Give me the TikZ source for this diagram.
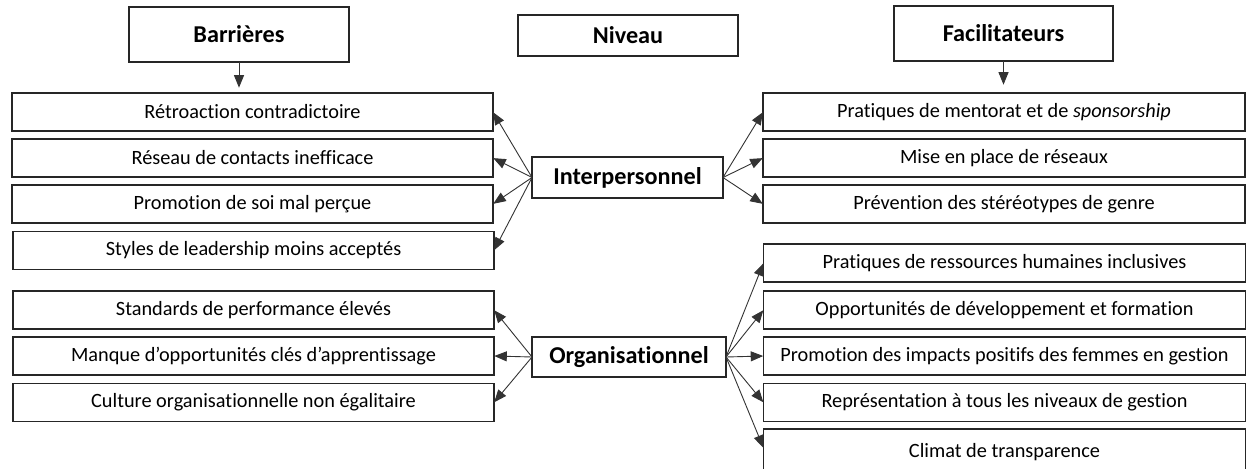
\documentclass[tikz,border=0pt]{standalone}
\usepackage{fontspec}
\setmainfont{Carlito}[Ligatures=NoCommon]
\usetikzlibrary{arrows.meta}
\tikzset{
  box/.style={draw=black!85, line width=1.1pt, fill=white, inner sep=0pt, outer sep=0pt,
    minimum height=38pt, font=\fontsize{20.3}{24}\selectfont},
  lbox/.style={box, minimum width=481pt},
  rbox/.style={box, minimum width=482pt},
  head/.style={draw=black!85, line width=1.1pt, inner sep=0pt, outer sep=0pt,
    font=\fontsize{24.2}{28}\selectfont\bfseries},
  arr/.style={draw=black!80, line width=0.9pt, -{Triangle[length=12.5pt,width=10pt]}, shorten >=0.3pt}
}
\begin{document}
\begin{tikzpicture}[x=1pt,y=-1pt]
\useasboundingbox (0,0) rectangle (1246,468);
% headers
\node[head, minimum width=220pt, minimum height=55pt] (bar) at (239,34.5) {Barrières};
\node[head, minimum width=220pt, minimum height=41pt] (niv) at (628,35.5) {Niveau};
\node[head, minimum width=219pt, minimum height=55pt] (fac) at (1003.5,33.5) {Facilitateurs};
\node[head, minimum width=191pt, minimum height=41pt] (ip) at (627.5,177.5) {Interpersonnel};
\node[head, minimum width=194pt, minimum height=40pt] (org) at (629,357) {Organisationnel};
\coordinate (bard) at (239,88);
\coordinate (facd) at (1003.5,85);
% left boxes
\node[lbox] (l1) at (252.5,112) {Rétroaction contradictoire};
\node[lbox] (l2) at (252.5,158) {Réseau de contacts inefficace};
\node[lbox] (l3) at (252.5,204) {Promotion de soi mal perçue};
\node[lbox] (l4) at (253.5,250.5) {Styles de leadership moins acceptés};
\node[lbox] (l5) at (253.5,310) {Standards de performance élevés};
\node[lbox] (l6) at (253.5,356) {Manque d’opportunités clés d’apprentissage};
\node[lbox] (l7) at (253.5,402.5) {Culture organisationnelle non égalitaire};
% right boxes
\node[rbox] (r1) at (1004,112) {Pratiques de mentorat et de \emph{sponsorship}};
\node[rbox] (r2) at (1004,158) {Mise en place de réseaux};
\node[rbox] (r3) at (1004,204) {Prévention des stéréotypes de genre};
\node[rbox] (r4) at (1004.5,263) {Pratiques de ressources humaines inclusives};
\node[rbox] (r5) at (1004.5,310) {Opportunités de développement et formation};
\node[rbox] (r6) at (1004.5,356) {Promotion des impacts positifs des femmes en gestion};
\node[rbox] (r7) at (1004.5,402.5) {Représentation à tous les niveaux de gestion};
\node[rbox, minimum height=48pt, anchor=north] (r8) at (1004.5,429) {\raisebox{5pt}{Climat de transparence}};
% arrows
\draw[arr] (bar.south) -- (bard);
\draw[arr] (fac.south) -- (facd);
\foreach \t in {l1,l2,l3,l4} \draw[arr] (ip.west) -- (\t.east);
\foreach \t in {r1,r2,r3} \draw[arr] (ip.east) -- (\t.west);
\foreach \t in {l5,l6,l7} \draw[arr] (org.west) -- (\t.east);
\foreach \t in {r4,r5,r6,r7} \draw[arr] (org.east) -- (\t.west);
\draw[arr] (org.east) -- ([yshift=5pt]r8.west);
\end{tikzpicture}
\end{document}
